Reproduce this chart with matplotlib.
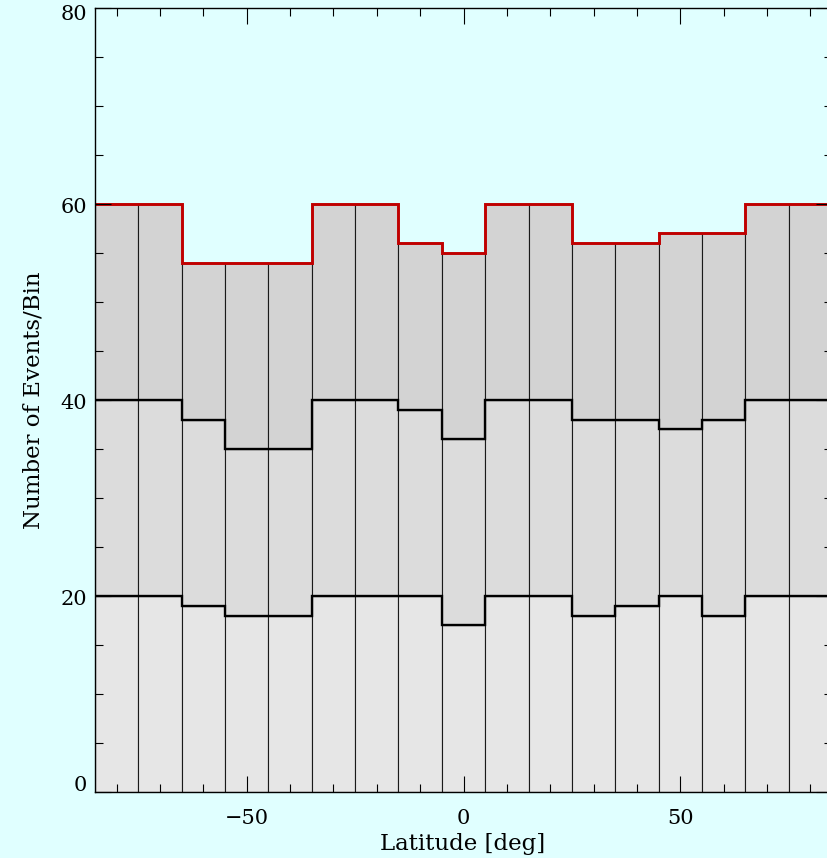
import matplotlib
matplotlib.use("Agg")
import matplotlib.pyplot as plt
import numpy as np
from matplotlib.ticker import MultipleLocator, NullFormatter

# Bin edges (latitude, deg)
bin_edges = [-85, -75, -65, -55, -45, -35, -25, -15, -5, 5, 15, 25, 35, 45, 55, 65, 75, 85]
# Cumulative levels
level1 = [20, 20, 19, 18, 18, 20, 20, 20, 17, 20, 20, 18, 19, 20, 18, 20, 20]
level2 = [40, 40, 38, 35, 35, 40, 40, 39, 36, 40, 40, 38, 38, 37, 38, 40, 40]
level3 = [60, 60, 54, 54, 54, 60, 60, 56, 55, 60, 60, 56, 56, 57, 57, 60, 60]
x_ticks = [-50, 0, 50]
y_ticks = [0, 20, 40, 60, 80]

edges = np.array(bin_edges, dtype=float)
l1 = np.array(level1, dtype=float)
l2 = np.array(level2, dtype=float)
l3 = np.array(level3, dtype=float)
centers = (edges[:-1] + edges[1:]) / 2
widths = np.diff(edges)

W, H = 827, 858
bg = "#e0ffff"
plt.rcParams['font.family'] = ['DejaVu Serif']
fig = plt.figure(figsize=(W/100, H/100), dpi=100, facecolor=bg)
ax = fig.add_axes([95/W, 66/H, 737/W, 784/H])
ax.set_facecolor(bg)

ec = "#1a1a1a"
ax.bar(centers, l1, width=widths, color="#e6e6e6", edgecolor=ec, linewidth=0.8, zorder=1)
ax.bar(centers, l2 - l1, width=widths, bottom=l1, color="#dcdcdc", edgecolor=ec, linewidth=0.8, zorder=1)
ax.bar(centers, l3 - l2, width=widths, bottom=l2, color="#d3d3d3", edgecolor=ec, linewidth=0.8, zorder=1)

ax.stairs(l1, edges, baseline=None, color="black", linewidth=1.7, zorder=2)
ax.stairs(l2, edges, baseline=None, color="black", linewidth=1.7, zorder=2)
ax.stairs(l3, edges, baseline=None, color="#c00000", linewidth=2.1, zorder=2)

ax.set_xlim(-85, 85)
ax.set_ylim(0, 80)
ax.set_xticks(x_ticks)
ax.set_yticks(y_ticks)
ax.yaxis.set_major_formatter(NullFormatter())
ax.xaxis.set_minor_locator(MultipleLocator(10))
ax.yaxis.set_minor_locator(MultipleLocator(5))
ax.tick_params(which='both', direction='in', top=True, right=True, width=0.8, color='black')
ax.tick_params(which='major', length=11.5)
ax.tick_params(which='minor', length=5.8)
ax.tick_params(axis='x', labelsize=15, pad=12)
ax.set_axisbelow(False)
for s in ax.spines.values():
    s.set_linewidth(1.0)
    s.set_zorder(3)

# y tick labels, slightly shifted like the reference (ends kept inside the frame)
ymin, ymax = y_ticks[0], y_ticks[-1]
for v in y_ticks:
    dy = -2.5
    if v == ymin:
        dy = 5
    elif v == ymax:
        dy = -5
    ax.annotate(str(v), xy=(0, v), xycoords=('axes fraction', 'data'),
                xytext=(-5.5, dy), textcoords='offset points',
                ha='right', va='center', fontsize=15, annotation_clip=False)

fig.text(463/W, (H-850)/H, "Latitude [deg]", fontsize=16.5, ha='center', va='baseline')
fig.text(34/W, (H-400)/H, "Number of Events/Bin", fontsize=16.5, ha='center', va='center', rotation=90)

fig.savefig("out.png", dpi=100, facecolor=bg)
